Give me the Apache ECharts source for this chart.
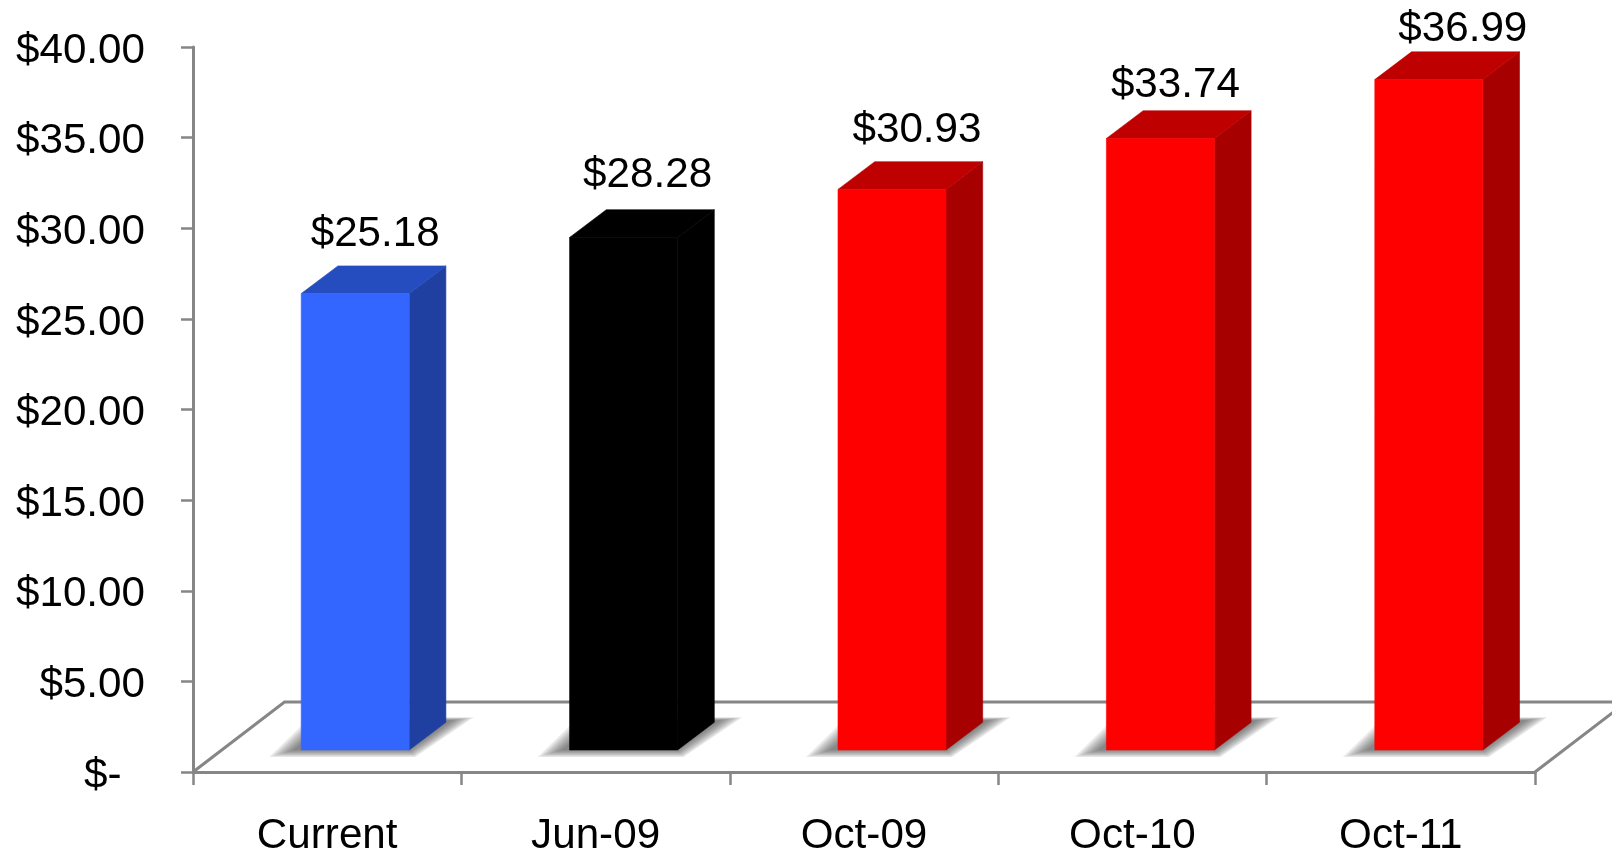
<!DOCTYPE html>
<html>
<head>
<meta charset="utf-8">
<title>Price targets</title>
<script src="https://cdn.jsdelivr.net/npm/echarts@6/dist/echarts.min.js"></script>
<style>
  html, body { margin: 0; padding: 0; background: #fff; }
  #chart { width: 1612px; height: 854px; }
</style>
</head>
<body>
<div id="chart"></div>
<script>
const categories = ['Current', 'Jun-09', 'Oct-09', 'Oct-10', 'Oct-11'];
const prices = [25.18, 28.28, 30.93, 33.74, 36.99];
const yTicks = [0, 5, 10, 15, 20, 25, 30, 35, 40];

// colours per bar: front, side, top
const frontColors = ['#3366ff', '#000000', '#ff0000', '#ff0000', '#ff0000'];
const sideColors = ['#1f3fa1', '#000000', '#a60000', '#a60000', '#a60000'];
const topColors = ['#264dbf', '#000000', '#bf0000', '#bf0000', '#bf0000'];

// data label placement relative to the bar's value point, the labels sit unevenly in the source
const labelShiftX = [48, 52, 53, 43, 62];
const labelShiftY = [-81, -84, -81, -75, -72];

const AXIS_COLOR = '#868686';
const FONT = '"Liberation Sans", Arial, sans-serif';
const FONT_SIZE = 42.2;

// fake 3D: bars stand on a floor which is lifted off the axis
const BAR_WIDTH = 108;
const BAR_SHIFT = -26; // bar front left edge, from the category centre
const BAR_LIFT = 22;
const DEPTH_X = 36.7;
const DEPTH_Y = 27.7;
const FLOOR_X = 91.5;
const FLOOR_Y = 70;
const SHADOW_LAYERS = 9;

function renderFloor(params, api) {
  const cs = params.coordSys;
  const base = api.coord([0, 0])[1];
  const left = cs.x;
  const right = cs.x + cs.width;
  const line = { stroke: AXIS_COLOR, lineWidth: 3, fill: null };
  return {
    type: 'group',
    children: [
      { type: 'polyline', shape: { points: [[left, base], [left + FLOOR_X, base - FLOOR_Y], [right + FLOOR_X, base - FLOOR_Y], [right, base]] }, style: line },
    ],
  };
}

// canvas blur comes out too hard here, so the shadow is stacked from thin layers
function shadowLayers(x0, x1, y1) {
  const layers = [];
  for (let k = SHADOW_LAYERS - 1; k >= 0; k--) {
    const t = k / (SHADOW_LAYERS - 1);
    layers.push({
      type: 'polygon',
      shape: {
        points: [
          [x0 - 8 - 24 * t, y1 + 7 * t],
          [x1 + 6 * t, y1 + 7 * t],
          [x1 + DEPTH_X + 6 + 22 * t, y1 - DEPTH_Y - 2 - 3 * t],
          [x0 + DEPTH_X - 8 - 20 * t, y1 - DEPTH_Y - 2 - 3 * t],
        ],
      },
      style: { fill: '#4a4a4a', opacity: 0.11 },
    });
  }
  return layers;
}

function renderBar(params, api) {
  const i = api.value(0);
  const value = api.value(1);
  const top = api.coord([i, value]);
  const bottom = api.coord([i, 0]);
  const x0 = top[0] + BAR_SHIFT;
  const x1 = x0 + BAR_WIDTH;
  const y0 = top[1] - BAR_LIFT;
  const y1 = bottom[1] - BAR_LIFT;
  const poly = (points, fill) => ({ type: 'polygon', shape: { points }, style: { fill, stroke: fill, lineWidth: 0.6 } });
  return {
    type: 'group',
    children: shadowLayers(x0, x1, y1).concat([
      poly([[x1, y0], [x1 + DEPTH_X, y0 - DEPTH_Y], [x1 + DEPTH_X, y1 - DEPTH_Y], [x1, y1]], sideColors[i]),
      poly([[x0, y0], [x0 + DEPTH_X, y0 - DEPTH_Y], [x1 + DEPTH_X, y0 - DEPTH_Y], [x1, y0]], topColors[i]),
      poly([[x0, y0], [x1, y0], [x1, y1], [x0, y1]], frontColors[i]),
      {
        type: 'text',
        x: top[0] + labelShiftX[i],
        y: top[1] + labelShiftY[i],
        style: {
          text: '$' + value.toFixed(2),
          fill: '#000',
          font: FONT_SIZE + 'px ' + FONT,
          align: 'center',
          verticalAlign: 'middle',
        },
      },
    ]),
  };
}

const chart = echarts.init(document.getElementById('chart'), null, { renderer: 'canvas' });
chart.setOption({
  animation: false,
  backgroundColor: '#fff',
  textStyle: { fontFamily: FONT },
  grid: { left: 193, right: 77, top: 47, bottom: 82, containLabel: false, outerBoundsMode: 'none' },
  xAxis: {
    type: 'category',
    data: categories,
    axisLine: { lineStyle: { color: AXIS_COLOR, width: 3 } },
    axisTick: { show: true, alignWithLabel: false, length: 13, lineStyle: { color: AXIS_COLOR, width: 2.5 } },
    axisLabel: { color: '#000', fontSize: FONT_SIZE, fontFamily: FONT, margin: 43, interval: 0 },
    z: 3,
  },
  yAxis: {
    type: 'value',
    min: yTicks[0],
    max: yTicks[yTicks.length - 1],
    interval: 5,
    splitLine: { show: false },
    axisLine: { show: true, lineStyle: { color: AXIS_COLOR, width: 3 } },
    axisTick: { show: true, length: 12, lineStyle: { color: AXIS_COLOR, width: 2.5 } },
    axisLabel: {
      color: '#000',
      fontSize: FONT_SIZE,
      fontFamily: FONT,
      margin: 48,
      // small line box hung from the tick: drops the digits onto the tick like the source
      verticalAlign: 'top',
      lineHeight: 8,
      // accounting format: the dash keeps trailing space
      formatter: (v) => (v === 0 ? '$-\u00a0\u00a0' : '$' + v.toFixed(2)),
    },
    z: 3,
  },
  series: [
    { type: 'custom', renderItem: renderFloor, data: [[0, 0]], z: 1, silent: true },
    {
      type: 'custom',
      renderItem: renderBar,
      encode: { x: 0, y: 1 },
      data: prices.map((p, i) => [i, p]),
      z: 2,
      silent: true,
    },
  ],
});
</script>
</body>
</html>
